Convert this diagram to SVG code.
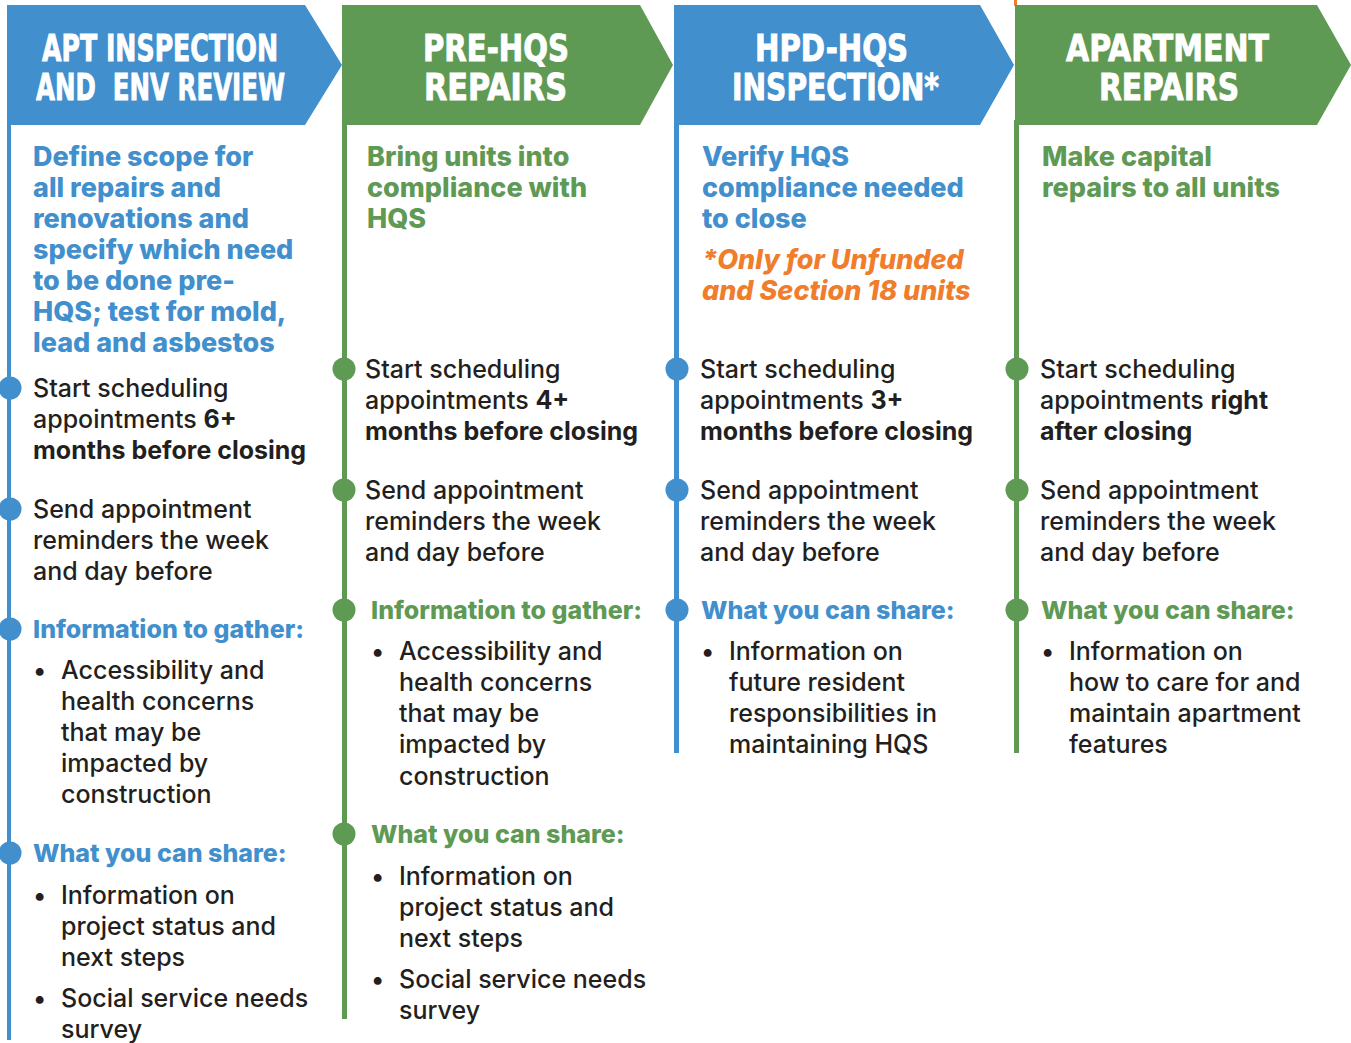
<svg xmlns="http://www.w3.org/2000/svg" width="1351" height="1043" viewBox="0 0 1351 1043">
<style>
.hdr{font-family:"DejaVu Sans Condensed","Liberation Sans",sans-serif;font-weight:bold;font-size:38px;fill:#fff;stroke:#fff;stroke-width:0.9px}
.b{font-family:Inter,"Liberation Sans",sans-serif;font-size:25px;font-weight:500;fill:#231f20}
.bb{font-weight:700}
.h{font-family:Inter,"Liberation Sans",sans-serif;font-size:27px;font-weight:800}
.s{font-family:Inter,"Liberation Sans",sans-serif;font-size:25px;font-weight:800}
.blue{fill:#418fcd}
.green{fill:#5f9a55}
.orange{fill:#ef7d2c;font-style:italic}
</style>
<rect width="1351" height="1043" fill="#fff"/>
<g id="connectors">
<rect x="7" y="120" width="4" height="920" class="blue"/>
<rect x="342" y="120" width="5" height="899" class="green"/>
<rect x="674" y="120" width="5" height="633" class="blue"/>
<rect x="1014" y="120" width="5" height="633" class="green"/>
<rect x="1014" y="0" width="3" height="6" class="orange"/>
</g>
<g id="col1">
<polygon points="7,5 305,5 342,65 305,125 7,125" class="blue"/>
<text class="hdr" x="42" y="61" textLength="236" lengthAdjust="spacingAndGlyphs">APT INSPECTION</text>
<text class="hdr" x="36" y="100" textLength="249" lengthAdjust="spacingAndGlyphs" xml:space="preserve">AND  ENV REVIEW</text>
<text class="h blue" x="33"><tspan x="33" y="166">Define scope for</tspan><tspan x="33" y="197">all repairs and</tspan><tspan x="33" y="228">renovations and</tspan><tspan x="33" y="259">specify which need</tspan><tspan x="33" y="290">to be done pre-</tspan><tspan x="33" y="321">HQS; test for mold,</tspan><tspan x="33" y="352">lead and asbestos</tspan></text>
<circle cx="10" cy="388" r="11.5" class="blue"/>
<text class="b"><tspan x="33" y="397">Start scheduling</tspan><tspan x="33" y="428">appointments <tspan class="bb">6+</tspan></tspan><tspan x="33" y="459" class="bb">months before closing</tspan></text>
<circle cx="10" cy="509" r="11.5" class="blue"/>
<text class="b"><tspan x="33" y="518">Send appointment</tspan><tspan x="33" y="549">reminders the week</tspan><tspan x="33" y="580">and day before</tspan></text>
<circle cx="10" cy="629" r="11.5" class="blue"/>
<text class="s blue" x="33" y="638">Information to gather:</text>
<text class="b"><tspan x="33" y="679">•</tspan><tspan x="61" y="679">Accessibility and</tspan><tspan x="61" y="710">health concerns</tspan><tspan x="61" y="741">that may be</tspan><tspan x="61" y="772">impacted by</tspan><tspan x="61" y="803">construction</tspan></text>
<circle cx="10" cy="853" r="11.5" class="blue"/>
<text class="s blue" x="33" y="862">What you can share:</text>
<text class="b"><tspan x="33" y="904">•</tspan><tspan x="61" y="904">Information on</tspan><tspan x="61" y="935">project status and</tspan><tspan x="61" y="966">next steps</tspan><tspan x="33" y="1007">•</tspan><tspan x="61" y="1007">Social service needs</tspan><tspan x="61" y="1038">survey</tspan></text>
</g>
<g id="col2">
<polygon points="342,5 640,5 673,65 640,125 342,125" class="green"/>
<text class="hdr" x="423" y="61" textLength="146" lengthAdjust="spacingAndGlyphs">PRE-HQS</text>
<text class="hdr" x="424" y="100" textLength="143" lengthAdjust="spacingAndGlyphs">REPAIRS</text>
<text class="h green"><tspan x="367" y="166">Bring units into</tspan><tspan x="367" y="197">compliance with</tspan><tspan x="367" y="228">HQS</tspan></text>
<circle cx="344" cy="369" r="11.5" class="green"/>
<text class="b"><tspan x="365" y="378">Start scheduling</tspan><tspan x="365" y="409">appointments <tspan class="bb">4+</tspan></tspan><tspan x="365" y="440" class="bb">months before closing</tspan></text>
<circle cx="344" cy="490" r="11.5" class="green"/>
<text class="b"><tspan x="365" y="499">Send appointment</tspan><tspan x="365" y="530">reminders the week</tspan><tspan x="365" y="561">and day before</tspan></text>
<circle cx="344" cy="610" r="11.5" class="green"/>
<text class="s green" x="371" y="619">Information to gather:</text>
<text class="b"><tspan x="371" y="660">•</tspan><tspan x="399" y="660">Accessibility and</tspan><tspan x="399" y="691">health concerns</tspan><tspan x="399" y="722">that may be</tspan><tspan x="399" y="753">impacted by</tspan><tspan x="399" y="785">construction</tspan></text>
<circle cx="344" cy="834" r="11.5" class="green"/>
<text class="s green" x="371" y="843">What you can share:</text>
<text class="b"><tspan x="371" y="885">•</tspan><tspan x="399" y="885">Information on</tspan><tspan x="399" y="916">project status and</tspan><tspan x="399" y="947">next steps</tspan><tspan x="371" y="988">•</tspan><tspan x="399" y="988">Social service needs</tspan><tspan x="399" y="1019">survey</tspan></text>
</g>
<g id="col3">
<polygon points="674,5 980,5 1014,65 980,125 674,125" class="blue"/>
<text class="hdr" x="755" y="61" textLength="153" lengthAdjust="spacingAndGlyphs">HPD-HQS</text>
<text class="hdr" x="732" y="100" textLength="207" lengthAdjust="spacingAndGlyphs">INSPECTION*</text>
<text class="h blue"><tspan x="702" y="166">Verify HQS</tspan><tspan x="702" y="197">compliance needed</tspan><tspan x="702" y="228">to close</tspan></text>
<text class="h orange"><tspan x="702" y="269">*Only for Unfunded</tspan><tspan x="702" y="300">and Section 18 units</tspan></text>
<circle cx="677" cy="369" r="11.5" class="blue"/>
<text class="b"><tspan x="700" y="378">Start scheduling</tspan><tspan x="700" y="409">appointments <tspan class="bb">3+</tspan></tspan><tspan x="700" y="440" class="bb">months before closing</tspan></text>
<circle cx="677" cy="490" r="11.5" class="blue"/>
<text class="b"><tspan x="700" y="499">Send appointment</tspan><tspan x="700" y="530">reminders the week</tspan><tspan x="700" y="561">and day before</tspan></text>
<circle cx="677" cy="610" r="11.5" class="blue"/>
<text class="s blue" x="701" y="619">What you can share:</text>
<text class="b"><tspan x="701" y="660">•</tspan><tspan x="729" y="660">Information on</tspan><tspan x="729" y="691">future resident</tspan><tspan x="729" y="722">responsibilities in</tspan><tspan x="729" y="753">maintaining HQS</tspan></text>
</g>
<g id="col4">
<polygon points="1015,5 1317,5 1351,65 1317,125 1015,125" class="green"/>
<text class="hdr" x="1066" y="61" textLength="203" lengthAdjust="spacingAndGlyphs">APARTMENT</text>
<text class="hdr" x="1099" y="100" textLength="140" lengthAdjust="spacingAndGlyphs">REPAIRS</text>
<text class="h green"><tspan x="1042" y="166">Make capital</tspan><tspan x="1042" y="197">repairs to all units</tspan></text>
<circle cx="1017" cy="369" r="11.5" class="green"/>
<text class="b"><tspan x="1040" y="378">Start scheduling</tspan><tspan x="1040" y="409">appointments <tspan class="bb">right</tspan></tspan><tspan x="1040" y="440" class="bb">after closing</tspan></text>
<circle cx="1017" cy="490" r="11.5" class="green"/>
<text class="b"><tspan x="1040" y="499">Send appointment</tspan><tspan x="1040" y="530">reminders the week</tspan><tspan x="1040" y="561">and day before</tspan></text>
<circle cx="1017" cy="610" r="11.5" class="green"/>
<text class="s green" x="1041" y="619">What you can share:</text>
<text class="b"><tspan x="1041" y="660">•</tspan><tspan x="1069" y="660">Information on</tspan><tspan x="1069" y="691">how to care for and</tspan><tspan x="1069" y="722">maintain apartment</tspan><tspan x="1069" y="753">features</tspan></text>
</g>
</svg>
